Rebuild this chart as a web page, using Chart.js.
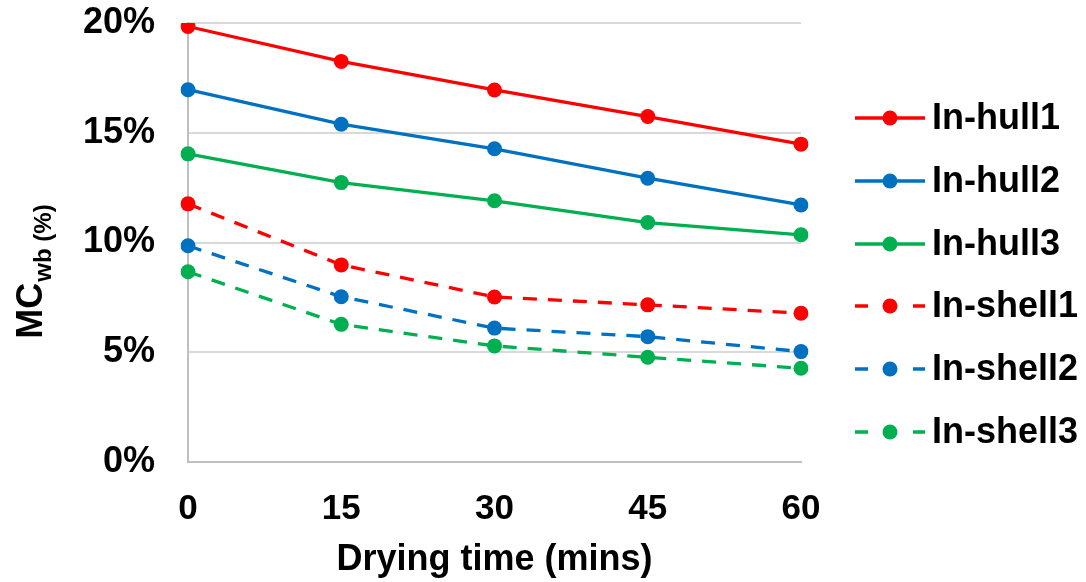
<!DOCTYPE html>
<html>
<head>
<meta charset="utf-8">
<script src="https://cdn.jsdelivr.net/npm/chart.js@4"></script>
<style>
  html, body { margin: 0; padding: 0; background: #fff; }
  #wrap { width: 1086px; height: 582px; }
</style>
</head>
<body>
<div id="wrap"><canvas id="lineChart" width="1086" height="582"></canvas></div>
<script>
// Moisture content vs drying time

const times = ['0', '15', '30', '45', '60'];
const yTicks = [0, 5, 10, 15, 20];

const hull1 = [19.84, 18.25, 16.95, 15.74, 14.48];
const hull2 = [16.96, 15.39, 14.27, 12.93, 11.71];
const hull3 = [14.04, 12.73, 11.90, 10.91, 10.35];
const shell1 = [11.76, 8.98, 7.52, 7.16, 6.78];
const shell2 = [9.85, 7.53, 6.10, 5.71, 5.03];
const shell3 = [8.67, 6.27, 5.29, 4.77, 4.27];

const seriesNames = ['In-hull1', 'In-hull2', 'In-hull3', 'In-shell1', 'In-shell2', 'In-shell3'];
const seriesData = [hull1, hull2, hull3, shell1, shell2, shell3];
const seriesColors = ['#FF0000', '#0070C0', '#00B050', '#FF0000', '#0070C0', '#00B050'];
const DASH = [14, 11];

const FONT = '"Liberation Sans", Arial, sans-serif';

const datasets = seriesNames.map((name, i) => ({
  label: name,
  data: seriesData[i],
  borderColor: seriesColors[i],
  backgroundColor: seriesColors[i],
  borderWidth: 3.3,
  borderDash: i >= 3 ? DASH : [],
  pointRadius: 7.5,
  pointHoverRadius: 7.5,
  pointBorderWidth: 0,
  tension: 0,
}));

// y title with subscript + legend with line and marker
const extras = {
  id: 'extras',
  afterDraw(chart) {
    const ctx = chart.ctx;
    ctx.save();
    // y axis title
    ctx.translate(42, 272);
    ctx.rotate(-Math.PI / 2);
    ctx.fillStyle = '#000';
    ctx.textBaseline = 'alphabetic';
    ctx.textAlign = 'left';
    ctx.font = 'bold 36px ' + FONT;
    const mc = 'MC';
    const mcW = ctx.measureText(mc).width;
    ctx.font = 'bold 24px ' + FONT;
    const sub = 'wb (%)';
    const subW = ctx.measureText(sub).width;
    const startX = -(mcW + subW) / 2;
    ctx.font = 'bold 36px ' + FONT;
    ctx.fillText(mc, startX, 0);
    ctx.font = 'bold 24px ' + FONT;
    ctx.fillText(sub, startX + mcW + 1, 9);
    ctx.restore();

    // legend
    ctx.save();
    const x0 = 855, x1 = 925, mx = 890;
    const rowY = [118, 181, 244, 306, 369, 432];
    chart.data.datasets.forEach((ds, i) => {
      const y = rowY[i];
      ctx.strokeStyle = ds.borderColor;
      ctx.lineWidth = 3.3;
      ctx.beginPath();
      if (ds.borderDash.length) {
        ctx.moveTo(x0, y); ctx.lineTo(x0 + 13, y);
        ctx.moveTo(x1 - 12, y); ctx.lineTo(x1, y);
      } else {
        ctx.moveTo(x0, y); ctx.lineTo(x1, y);
      }
      ctx.stroke();
      ctx.fillStyle = ds.backgroundColor;
      ctx.beginPath();
      ctx.arc(mx, y, 7.5, 0, Math.PI * 2);
      ctx.fill();
      ctx.fillStyle = '#000';
      ctx.font = 'bold 36px ' + FONT;
      ctx.textBaseline = 'middle';
      ctx.textAlign = 'left';
      ctx.fillText(ds.label, 932, y + 1);
    });
    ctx.restore();
  }
};

new Chart(document.getElementById('lineChart'), {
  type: 'line',
  data: { labels: times, datasets: datasets },
  plugins: [extras],
  options: {
    responsive: false,
    animation: false,
    layout: { padding: { top: 23, right: 285, bottom: 0, left: 0 } },
    plugins: {
      legend: { display: false },
      tooltip: { enabled: false },
    },
    scales: {
      x: {
        offset: false,
        afterFit(scale) { scale.height = 120; scale.paddingLeft = 0; scale.paddingRight = 0; },
        grid: { display: false, drawTicks: false },
        border: { color: '#BFBFBF', width: 2 },
        ticks: { color: '#000', font: { family: FONT, size: 35, weight: 'bold' }, padding: 26, maxRotation: 0 },
        title: {
          display: true,
          text: 'Drying time (mins)',
          color: '#000',
          font: { family: FONT, size: 36, weight: 'bold' },
          padding: { top: 6, bottom: 0 },
        },
      },
      y: {
        min: 0,
        max: 20,
        afterBuildTicks(scale) { scale.ticks = yTicks.map(v => ({ value: v })); },
        afterFit(scale) { scale.width = 188; scale.paddingTop = 0; scale.paddingBottom = 0; },
        grid: { color: '#D9D9D9', lineWidth: 2, drawTicks: false },
        border: { color: '#BFBFBF', width: 2 },
        ticks: {
          color: '#000',
          font: { family: FONT, size: 36, weight: 'bold' },
          padding: 33,
          callback: v => v + '%',
        },
      },
    },
  },
});
</script>
</body>
</html>
